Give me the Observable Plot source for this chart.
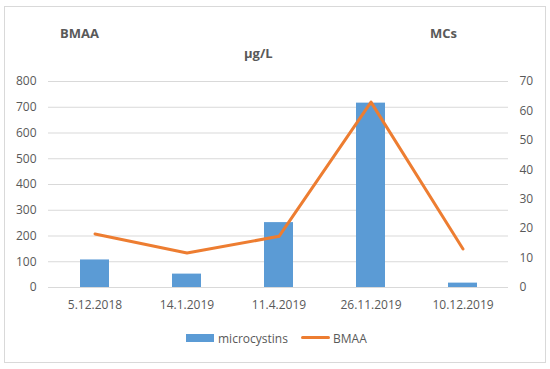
<!DOCTYPE html>
<html>
<head>
<meta charset="utf-8">
<script src="https://cdn.jsdelivr.net/npm/d3@7"></script>
<script src="https://cdn.jsdelivr.net/npm/@observablehq/plot@0.6"></script>
<style>
  html, body { margin: 0; padding: 0; background: #fff; }
  #wrap { position: relative; width: 550px; height: 369px; font-family: "Open Sans", "Liberation Sans", sans-serif; color: #595959; }
  #frame { position: absolute; left: 4px; top: 6px; width: 542px; height: 357px; border: 1px solid #d9d9d9; box-sizing: border-box; }
  .lab { position: absolute; font-weight: bold; font-size: 13px; color: #595959; }
  #legend { position: absolute; top: 330px; left: 0; width: 550px; font-size: 12px; color: #595959; }
  #plot { position: absolute; left: 0; top: 0; }
</style>
</head>
<body>
<div id="wrap">
  <div id="frame"></div>
  <div id="plot"></div>
  <div class="lab" style="left:60px;top:24px;">BMAA</div>
  <div class="lab" style="left:430px;top:24px;">MCs</div>
  <div class="lab" style="left:244px;top:44px;">µg/L</div>
  <div id="legend"></div>
</div>
<script>
const dates = ["5.12.2018", "14.1.2019", "11.4.2019", "26.11.2019", "10.12.2019"];
const microcystins = [107, 52, 252, 716, 17];
const bmaa = [18.2, 11.7, 17.4, 63.0, 13.1];
const leftTicks = [0, 100, 200, 300, 400, 500, 600, 700, 800];
const rightTicks = [0, 10, 20, 30, 40, 50, 60, 70];
const leftMax = 800, rightMax = 70;

const k = leftMax / rightMax;
const barData = dates.map((d, i) => ({date: d, value: microcystins[i]}));
const lineData = dates.map((d, i) => ({date: d, value: bmaa[i] * k}));

const chart = Plot.plot({
  width: 550,
  height: 320,
  marginTop: 81,
  marginBottom: 33,
  marginLeft: 48,
  marginRight: 42,
  style: {fontFamily: "'Open Sans', 'Liberation Sans', sans-serif", fontSize: "12px", color: "#595959", background: "transparent"},
  x: {domain: dates, paddingInner: 0.685, paddingOuter: 0.3425, align: 0.5, label: null},
  y: {domain: [0, leftMax], label: null},
  marks: [
    Plot.ruleY(leftTicks, {stroke: "#d9d9d9", strokeWidth: 1}),
    Plot.barY(barData, {x: "date", y: "value", fill: "#5b9bd5"}),
    Plot.line(lineData, {x: "date", y: "value", stroke: "#ed7d31", strokeWidth: 3}),
    Plot.axisX({tickSize: 0, tickPadding: 13, label: null, fill: "#595959", fontSize: 12}),
    Plot.axisY({ticks: leftTicks, tickSize: 0, tickPadding: 12, label: null, fill: "#595959", fontSize: 12}),
    Plot.axisY({anchor: "right", ticks: rightTicks.map(v => v * k), tickFormat: d => Math.round(d / k), tickSize: 0, tickPadding: 11, label: null, fill: "#595959", fontSize: 12})
  ]
});
document.getElementById("plot").appendChild(chart);

// legend
const legend = document.getElementById("legend");
legend.innerHTML = `
  <div style="position:absolute;left:186px;top:4px;width:28px;height:8px;background:#5b9bd5"></div>
  <div style="position:absolute;left:218px;top:0px;">microcystins</div>
  <div style="position:absolute;left:301px;top:6px;width:29px;height:3px;background:#ed7d31;border-radius:2px"></div>
  <div style="position:absolute;left:333px;top:0px;">BMAA</div>
`;
</script>
</body>
</html>
